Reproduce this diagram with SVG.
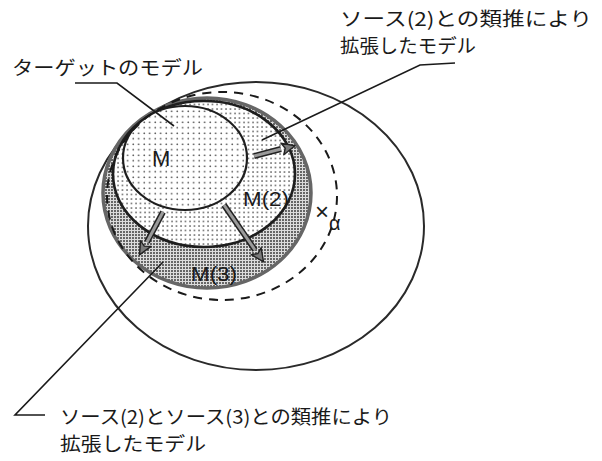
<svg xmlns="http://www.w3.org/2000/svg" width="602" height="461" viewBox="0 0 602 461">
<style>
.jp{font-family:"Noto Sans CJK JP","Noto Sans",sans-serif;font-size:19px;fill:#1a1a1a}
.lt{font-family:"Liberation Sans",Arial,sans-serif;fill:#1a1a1a}
.lead{fill:none;stroke:#1a1a1a;stroke-width:1.6}
.shaftO{stroke:#222;stroke-width:6;stroke-linecap:butt}
.shaftI{stroke:#9a9a9a;stroke-width:3;stroke-linecap:butt}
</style>
<defs>
<pattern id="dotsL" width="5.5" height="5.5" patternUnits="userSpaceOnUse">
<circle cx="1.2" cy="1.2" r="0.8" fill="#333"/>
</pattern>
<pattern id="dotsM" width="4.5" height="4.5" patternUnits="userSpaceOnUse">
<circle cx="1" cy="1" r="0.8" fill="#333"/>
</pattern>
<pattern id="dotsD" width="3" height="3" patternUnits="userSpaceOnUse">
<rect width="3" height="3" fill="#dcdcdc"/>
<circle cx="1" cy="1" r="0.95" fill="#333"/>
</pattern>
<marker id="head" markerUnits="userSpaceOnUse" markerWidth="16" markerHeight="14" refX="13" refY="7" orient="auto">
<path d="M1,1 L14,7 L1,13 L4,7 z" fill="#7a7a7a" stroke="#222" stroke-width="1.4" stroke-linejoin="round"/>
</marker>
</defs>
<rect width="602" height="461" fill="#fff"/>

<g id="outer">
<ellipse cx="256" cy="226" rx="168" ry="144" fill="none" stroke="#2a2a2a" stroke-width="2"/>
</g>
<g id="M3">
<ellipse cx="207" cy="193" rx="104" ry="95" fill="url(#dotsD)" stroke="#666" stroke-width="3.5"/>
</g>
<g id="M2">
<ellipse cx="204" cy="174" rx="91" ry="73" fill="#fff" stroke="none"/>
<ellipse cx="204" cy="174" rx="91" ry="73" fill="url(#dotsM)" stroke="#1e1e1e" stroke-width="2.6"/>
</g>
<g id="M">
<ellipse cx="185" cy="158" rx="62" ry="52" fill="#fff" stroke="none"/>
<ellipse cx="185" cy="158" rx="62" ry="52" fill="url(#dotsL)" stroke="#1e1e1e" stroke-width="2.2"/>
</g>
<g id="alpha-boundary">
<ellipse cx="222" cy="196" rx="115" ry="104" fill="none" stroke="#1a1a1a" stroke-width="2" stroke-dasharray="9 7"/>
</g>

<g id="connectors">
<line class="shaftO" x1="254" y1="156" x2="281" y2="149"/>
<line class="shaftI" x1="254" y1="156" x2="281" y2="149"/>
<line x1="254" y1="156" x2="294" y2="146" stroke="none" marker-end="url(#head)"/>
<line class="shaftO" x1="163" y1="212" x2="147" y2="242"/>
<line class="shaftI" x1="163" y1="212" x2="147" y2="242"/>
<line x1="163" y1="212" x2="140" y2="254" stroke="none" marker-end="url(#head)"/>
<line class="shaftO" x1="224" y1="205" x2="255" y2="250"/>
<line class="shaftI" x1="224" y1="205" x2="255" y2="250"/>
<line x1="224" y1="205" x2="263" y2="261" stroke="none" marker-end="url(#head)"/>
<polyline class="lead" points="75,83 117,83 174,126"/>
<polyline class="lead" points="455,63 420,65 262,140"/>
<polyline class="lead" points="45,415 15,415 163,262"/>
</g>

<g id="labels">
<text class="jp" x="12" y="75" textLength="191" lengthAdjust="spacingAndGlyphs">ターゲットのモデル</text>
<text class="jp" x="340" y="26" textLength="252" lengthAdjust="spacingAndGlyphs">ソース(2)との類推により</text>
<text class="jp" x="340" y="53" textLength="136" lengthAdjust="spacingAndGlyphs">拡張したモデル</text>
<text class="jp" x="60" y="424" textLength="332" lengthAdjust="spacingAndGlyphs">ソース(2)とソース(3)との類推により</text>
<text class="jp" x="60" y="451" textLength="146" lengthAdjust="spacingAndGlyphs">拡張したモデル</text>
<text class="lt" x="152" y="166" font-size="22">M</text>
<text class="lt" x="243" y="206" font-size="21" textLength="46" lengthAdjust="spacingAndGlyphs">M(2)</text>
<text class="lt" x="191" y="281" font-size="21" textLength="46" lengthAdjust="spacingAndGlyphs">M(3)</text>
<text class="lt" x="315" y="220" font-size="24">×</text>
<text class="lt" x="329" y="230" font-size="20">α</text>
</g>
</svg>
